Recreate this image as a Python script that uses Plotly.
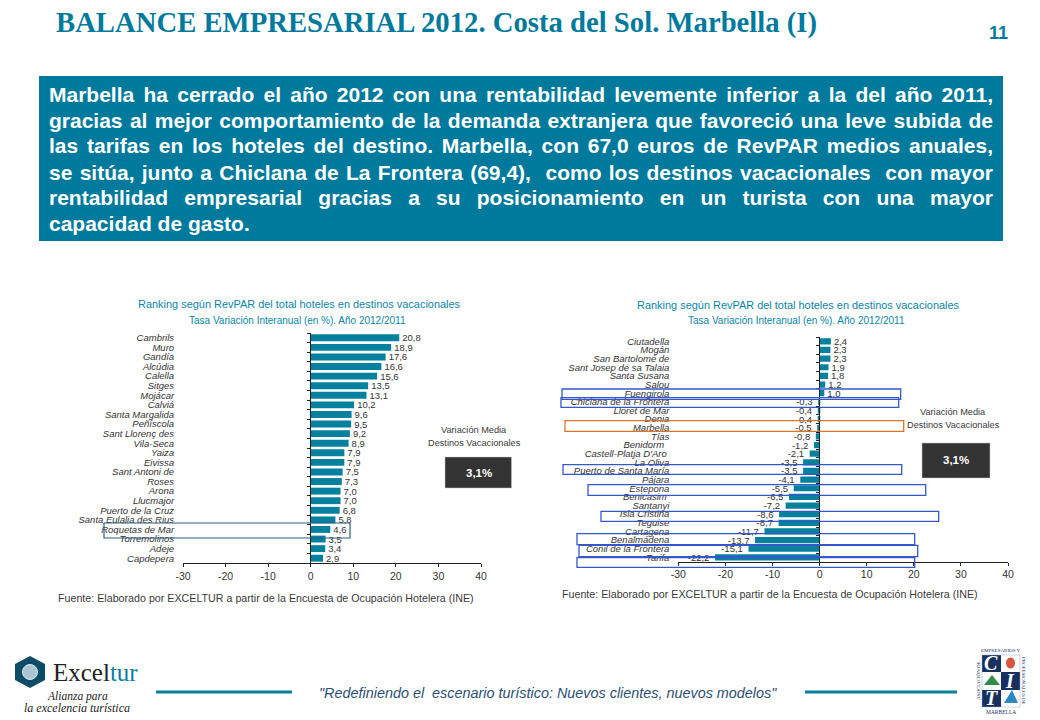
import json
import plotly.graph_objects as go

left_categories = ["Cambrils","Muro","Gandía","Alcúdia","Calella","Sitges","Mojácar","Calviá","Santa Margalida","Peñíscola","Sant Llorenç des","Vila-Seca","Yaiza","Eivissa","Sant Antoni de","Roses","Arona","Llucmajor","Puerto de la Cruz","Santa Eulalia des Rius","Roquetas de Mar","Torremolinos","Adeje","Capdepera"]
left_values = [20.8,18.9,17.6,16.6,15.6,13.5,13.1,10.2,9.6,9.5,9.2,8.9,7.9,7.9,7.5,7.3,7.0,7.0,6.8,5.8,4.6,3.5,3.4,2.9]
right_categories = ["Ciutadella","Mogán","San Bartolomé de","Sant Josep de sa Talaia","Santa Susana","Salou","Fuengirola","Chiclana de la Frontera","Lloret de Mar","Denia","Marbella","Tías","Benidorm  ","Castell-Platja D'Aro ","La Oliva","Puerto de Santa María","Pájara","Estepona","Benicasim ","Santanyi","Isla Cristina","Teguise","Cartagena","Benalmádena","Conil de la Frontera","Tarifa"]
right_values = [2.4,2.3,2.3,1.9,1.8,1.2,1.0,-0.3,-0.4,-0.4,-0.5,-0.8,-1.2,-2.1,-3.5,-3.5,-4.1,-5.5,-6.5,-7.2,-8.6,-8.7,-11.7,-13.7,-15.1,-22.2]
x_ticks = [-30,-20,-10,0,10,20,30,40]
title_text = "BALANCE EMPRESARIAL 2012. Costa del Sol. Marbella (I)"
chart_title = "Ranking según RevPAR del total hoteles en destinos vacacionales"
chart_subtitle = "Tasa Variación Interanual (en %). Año 2012/2011"
source_text = "Fuente: Elaborado por EXCELTUR a partir de la Encuesta de Ocupación Hotelera (INE)"
footer_text = "\"Redefiniendo el  escenario turístico: Nuevos clientes, nuevos modelos\""
banner_lines = [
    "Marbella ha cerrado el año 2012 con una rentabilidad levemente inferior a la del año 2011,",
    "gracias al mejor comportamiento de la demanda extranjera que favoreció una leve subida de",
    "las tarifas en los hoteles del destino. Marbella, con 67,0 euros de RevPAR medios anuales,",
    "se sitúa, junto a Chiclana de La Frontera (69,4),  como los destinos vacacionales  con mayor",
    "rentabilidad empresarial gracias a su posicionamiento en un turista con una mayor",
    "capacidad de gasto.",
]

W, H = 1040, 720
TEAL = "#007A9C"
BAR = "#06809F"
INK = "#333333"
SANS = "Liberation Sans, Arial, sans-serif"
SERIF = "Liberation Serif, Times New Roman, serif"
fx = lambda p: p / W
fy = lambda p: 1 - p / H

def note(x, y, text, size, color=INK, anchor="center", family=SANS, **kw):
    return dict(xref="paper", yref="paper", x=fx(x), y=fy(y), text=text, showarrow=False,
                xanchor=anchor, yanchor="middle", align=anchor,
                font=dict(size=size, color=color, family=family, **kw.pop("font", {})),
                borderpad=0, **kw)

def rect(x0, y0, x1, y1, line=None, fill=None, width=1.5, layer="above"):
    return dict(type="rect", xref="paper", yref="paper", x0=fx(x0), x1=fx(x1), y0=fy(y0), y1=fy(y1),
                line=dict(color=line, width=width) if line else dict(width=0),
                fillcolor=fill or "rgba(0,0,0,0)", layer=layer)

def poly(points, fill):
    d = "M" + " L".join(f"{fx(a):.5f},{fy(b):.5f}" for a, b in points) + " Z"
    return dict(type="path", xref="paper", yref="paper", path=d, fillcolor=fill, line=dict(width=0), layer="above")

fig = go.Figure()
for cats, vals, xa, ya, tpl in [(left_categories, left_values, "x", "y", "%{x:.1f}"),
                                (right_categories, right_values, "x2", "y2", "%{x:.1f}\u00a0")]:
    fig.add_trace(go.Bar(y=cats, x=vals, orientation="h", xaxis=xa, yaxis=ya, marker=dict(color=BAR, line=dict(width=0)),
                         texttemplate=tpl, textposition="outside", cliponaxis=False, constraintext="none",
                         textfont=dict(size=9.5, color=INK, family=SANS), showlegend=False, hoverinfo="skip"))

def xaxis(domain, pos):
    return dict(domain=[fx(domain[0]), fx(domain[1])], range=[-30, 40], tickmode="array", tickvals=x_ticks,
                ticktext=[str(t) for t in x_ticks], anchor="free", position=fy(pos), showgrid=False, zeroline=False,
                showline=True, linecolor="#222222", linewidth=1, ticks="outside", ticklen=3, tickcolor="#222222",
                tickfont=dict(size=10.5, color=INK, family=SANS))

def yaxis(domain, zero_px, standoff):
    return dict(domain=[fy(domain[1]), fy(domain[0])], type="category", autorange="reversed", anchor="free",
                position=fx(zero_px), showgrid=False, zeroline=False, showline=True, linecolor="#222222", linewidth=1,
                ticks="outside", ticklen=3, tickcolor="#222222", tickson="boundaries", ticklabelstandoff=standoff,
                tickmode="linear", dtick=1, automargin=False,
                tickfont=dict(size=9.5, color=INK, family=SANS, style="italic"))

shapes = [
    rect(39, 76, 1003, 241, fill=TEAL, layer="below"),
    rect(156, 690.5, 292, 693.5, fill=BAR),
    rect(805, 690.5, 957, 693.5, fill=BAR),
    rect(445, 457, 511.5, 488, fill="#333333", line="#c8c8c8", width=0.5),
    rect(922, 443, 990, 478, fill="#333333", line="#c8c8c8", width=0.5),
    rect(104, 523, 350, 538, line="#2F5F80", width=1.2),
]
blue_boxes = [(562,389,900.7,399.3),(561,397.7,898.7,407.3),(563,464.7,901.7,474.3),(588,484.7,925.7,495.3),
              (601,511.3,938.7,521.3),(577,533.7,914.7,544.7),(579,545.3,917.7,556.7),(577,557.7,914.7,567.3)]
shapes += [rect(*b, line="#3558C8", width=1.3) for b in blue_boxes]
shapes.append(rect(565, 420.7, 903.7, 431.3, line="#D9752B", width=1.3))

# Exceltur logo
shapes.append(poly([(30,656),(45,664),(45,680),(30,688),(15,680),(15,664)], "#0E4C66"))
shapes.append(dict(type="circle", xref="paper", yref="paper", x0=fx(22.5), x1=fx(37.5), y0=fy(664.5), y1=fy(679.5),
                   fillcolor="#A9C6D4", line=dict(color="#E6EEF2", width=1), layer="above"))
# CIT logo
NAVY = "#17305F"
shapes += [rect(982,655,1001,672,fill=NAVY), rect(1001,672,1020,690,fill=NAVY), rect(982,690,1001,707,fill=NAVY),
           rect(982,655,1020,707,line="#9AA7BD",width=0.5)]
shapes.append(dict(type="circle", xref="paper", yref="paper", x0=fx(1006), x1=fx(1015), y0=fy(657.5), y1=fy(668.5),
                   fillcolor="#D8553F", line=dict(width=0), layer="above"))
shapes.append(poly([(984,685),(992,675),(1000,685)], "#2E8B4A"))
shapes.append(poly([(1004,703),(1012,690),(1018,703)], "#2F86C5"))

ann = [
    note(55, 22, f"<b>{title_text}</b>", 28.7, TEAL, "left", SERIF),
    note(998, 33, "<b>11</b>", 18, TEAL),
]
for line, y in zip(banner_lines, [95, 120.5, 146, 172, 197, 223]):
    ann.append(note(47.5, y, f"<b>{line}</b>", 21, "#FFFFFF", "left"))
for cx, y0, y1, sx, sy0, vy0, vy1, bx, by, scx in [
    (299.5, 304, 320, 57, 598, 430, 443, 478.5, 472.5, 474),
    (798.5, 305.5, 320.5, 561, 594, 412, 425, 956, 460.5, 953)]:
    ann += [note(cx, y0, chart_title, 10.95, "#0A86A6"),
            note(cx - 2, y1, chart_subtitle, 10, "#0A86A6"),
            note(sx, sy0, source_text, 10.7, "#3A3A3A", "left"),
            note(scx, vy0, "Variación Media", 9.2, "#3A3A3A"),
            note(scx, vy1, "Destinos Vacacionales", 9.2, "#3A3A3A"),
            note(bx, by, "<b>3,1%</b>", 11.5, "#FFFFFF")]
ann += [
    note(548, 693, footer_text, 14.4, "#2B4F73", font=dict(style="italic")),
    note(52, 672, f"Excel<span style=\"color:{BAR}\">tur</span>", 25, "#222222", "left", SERIF),
    note(77, 696, "Alianza para", 11.5, "#222222", font=dict(style="italic"), family=SERIF),
    note(76.5, 707.5, "la excelencia turística", 12, "#222222", font=dict(style="italic"), family=SERIF),
    note(991, 663, "<b>C</b>", 20, "#FFFFFF", family=SERIF, font=dict(style="italic")),
    note(1010, 681, "<b>I</b>", 20, "#FFFFFF", family=SERIF, font=dict(style="italic")),
    note(991, 698, "<b>T</b>", 20, "#FFFFFF", family=SERIF, font=dict(style="italic")),
    note(1001, 650, "EMPRESARIOS Y", 5, NAVY, family=SERIF),
    note(1001, 712, "MARBELLA", 5.5, NAVY, family=SERIF),
    note(978, 681, "ASOCIACIÓN DE", 5, NAVY, family=SERIF, textangle=-90),
    note(1024, 681, "PROFESIONALES DE", 5, NAVY, family=SERIF, textangle=90),
]

fig.update_layout(
    width=W, height=H, margin=dict(l=0, r=0, t=0, b=0, autoexpand=False), paper_bgcolor="#FFFFFF", plot_bgcolor="rgba(0,0,0,0)",
    separators=",.", bargap=0.28, showlegend=False, shapes=shapes, annotations=ann,
    xaxis=xaxis((183, 481), 563), yaxis=yaxis((333, 563), 310, 134),
    xaxis2=xaxis((678.3, 1008), 561.7), yaxis2=yaxis((337, 561.7), 819.3, 148),
)

justified = json.dumps(banner_lines[:5])
post = """
document.documentElement.style.overflow='hidden';
document.body.style.margin='0';document.body.style.overflow='hidden';
var lines=%s, target=944;
document.querySelectorAll('.annotation-text').forEach(function(t){
  var s=t.textContent;
  if(lines.indexOf(s)<0) return;
  var n=s.split(' ').length-1, w=t.getComputedTextLength();
  t.style.whiteSpace='pre';
  t.style.wordSpacing=((target-w)/n)+'px';
});
""" % justified
fig.write_html("out.html", config={"displayModeBar": False}, post_script=post)
